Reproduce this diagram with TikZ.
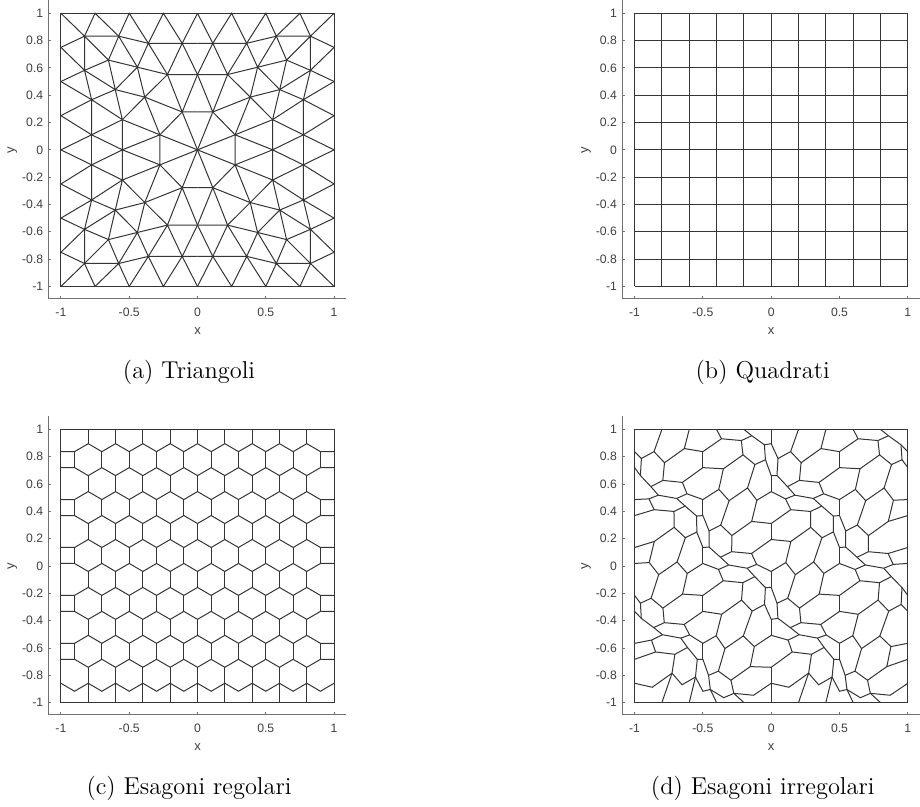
\documentclass[tikz,border=0pt]{standalone}
\usepackage{fontspec}
\usepackage{xcolor}
\setsansfont{Liberation Sans}
\definecolor{MeshLine}{HTML}{353535}
\definecolor{AxisGray}{HTML}{707070}
\definecolor{TickText}{HTML}{404040}
\newcommand{\hexamp}{0}
\newcommand{\triquad}{%
\coordinate (A) at (-0.827,0.832);\coordinate (B) at (-0.577,0.832);\coordinate (C) at (-0.36,0.78);\coordinate (D) at (-0.112,0.78);\coordinate (E) at (-0.652,0.657);\coordinate (F) at (-0.827,0.582);
\coordinate (G) at (-0.44,0.605);\coordinate (H) at (-0.22,0.551);\coordinate (I) at (0,0.551);\coordinate (J) at (-0.602,0.441);\coordinate (K) at (-0.775,0.367);\coordinate (L) at (-0.386,0.386);
\coordinate (M) at (-0.112,0.277);\coordinate (N) at (-0.55,0.221);\coordinate (O) at (-0.775,0.11);\coordinate (P) at (-0.275,0.11);\coordinate (Q) at (0,0);\coordinate (N0) at (-0.55,0);
\draw[meshline] (-1,1) -- (A) -- (-0.75,1) -- (B) -- (-0.5,1) -- (C) -- (-0.25,1) -- (D) -- (0,1);
\draw[meshline] (-1,0.75) -- (A) -- (B) -- (C) -- (D) -- (0,0.78);
\draw[meshline] (-1,0.75) -- (F) -- (A) -- (E) -- (B) -- (G) -- (C) -- (H) -- (D) -- (I);
\draw[meshline] (-1,0.5) -- (F) -- (E) -- (G) -- (H) -- (I);
\draw[meshline] (-1,0.5) -- (K) -- (F) -- (J) -- (E);\draw[meshline] (J) -- (G) -- (L) -- (H) -- (M) -- (I);
\draw[meshline] (-1,0.25) -- (K) -- (J) -- (L) -- (M) -- (0,0.277);\draw[meshline] (-1,0.25) -- (O) -- (K) -- (N) -- (J);
\draw[meshline] (N) -- (L) -- (P) -- (M) -- (Q);\draw[meshline] (-1,0) -- (O) -- (N) -- (P) -- (Q);
\draw[meshline] (O) -- (-0.775,0);\draw[meshline] (N) -- (N0) -- (O);\draw[meshline] (N0) -- (P) -- (-0.275,0);}
\newcommand{\hexmesh}{%
\foreach \k in {1,...,11}{\pgfmathsetmacro\yc{rowy(\k)}\pgfmathsetmacro\ylo{\yc-0.0585}\pgfmathsetmacro\yhi{min(1,\yc+0.0585)}\pgfmathsetmacro\xo{isodd(\k) ? (-0.8) : (-0.9)}\pgfmathtruncatemacro\nv{isodd(\k) ? 8 : 9}%
\foreach \j in {0,...,\nv}{\draw[meshline] ({hx(\xo+0.2*\j,\ylo)},{hy(\xo+0.2*\j,\ylo)}) -- ({hx(\xo+0.2*\j,\yhi)},{hy(\xo+0.2*\j,\yhi)});}}
\foreach \k in {1,...,10}{\pgfmathsetmacro\yo{isodd(\k) ? (rowy(\k+1)+0.0585) : (rowy(\k)-0.0585)}\pgfmathsetmacro\ye{isodd(\k) ? (rowy(\k)-0.0585) : (rowy(\k+1)+0.0585)}%
\draw[meshline] ({hx(-1,\yo)},{hy(-1,\yo)}) \foreach \i [evaluate=\i as \xx using -1+0.1*\i,evaluate=\i as \yy using (isodd(\i) ? \yo : \ye)] in {1,...,19}{ -- ({hx(\xx,\yy)},{hy(\xx,\yy)})} -- ({hx(1,\yo)},{hy(1,\yo)});}
\pgfmathsetmacro\ye{rowy(11)-0.0585}\pgfmathsetmacro\yo{rowy(11)-0.117}%
\draw[meshline] ({hx(-1,\ye)},{hy(-1,\ye)}) \foreach \i [evaluate=\i as \xx using -1+0.1*\i,evaluate=\i as \yy using (isodd(\i) ? \yo : \ye)] in {1,...,19}{ -- ({hx(\xx,\yy)},{hy(\xx,\yy)})} -- ({hx(1,\ye)},{hy(1,\ye)});
\foreach \j in {0,...,8}{\draw[meshline] ({hx(-0.8+0.2*\j,-1)},{hy(-0.8+0.2*\j,-1)}) -- ({hx(-0.8+0.2*\j,\ye)},{hy(-0.8+0.2*\j,\ye)});}}
\newcommand{\meshaxes}[2]{%
\draw[axisline] (-1.09,1.1) -- (-1.09,-1.09) -- (1.09,-1.09);
\foreach \t [count=\n] in {-1,-0.8,-0.6,-0.4,-0.2,0,0.2,0.4,0.6,0.8,1}{\draw[axisline] (-1.09,\t) -- ++(1.4pt,0);\node[ticklab,anchor=east] (#1yt\n) at ([xshift=-2.5pt]-1.09,\t){\t};}
\foreach \t [count=\n] in {-1,-0.5,0,0.5,1}{\draw[axisline] (\t,-1.09) -- ++(0,1.4pt);\node[ticklab] (#1xt\n) at (\t,-1.19){\t};}
\node[axlab] (#1xl) at (0,-1.325){x};\node[axlab,rotate=90] (#1yl) at (-1.356,0){y};
\node[capt,anchor=base] (#1cap) at (-0.062,-1.675){#2};}
\begin{document}
\begin{tikzpicture}[x=0.5pt,y=0.5pt,meshline/.style={draw=MeshLine,line width=0.5pt},axisline/.style={draw=AxisGray,line width=0.45pt},ticklab/.style={text=TickText,font=\sffamily\fontsize{6.1}{7}\selectfont,inner sep=0pt},axlab/.style={text=TickText,font=\sffamily\fontsize{6.5}{7.5}\selectfont,inner sep=0pt},capt/.style={font=\fontsize{12.2}{14.6}\selectfont,inner sep=0pt},declare function={hx(\x,\y)=\x+\hexamp*sin(360*\x)*sin(360*\y);hy(\x,\y)=\y+\hexamp*sin(360*\x)*sin(360*\y);rowy(\k)=0.954-(\k-1)*0.1754;}]
\path[fill=white,use as bounding box] (0,0) rectangle (920,807);
\begin{scope}[shift={(98.75pt,328.575pt)},x=68.3pt,y=68.3pt]
\foreach \sx/\sy in {1/1,-1/1,1/-1,-1/-1}{\begin{scope}[xscale=\sx,yscale=\sy]\triquad\end{scope}}
\draw[meshline] (-1,-1) rectangle (1,1);
\meshaxes{a}{(a) Triangoli}
\end{scope}
\begin{scope}[shift={(385.6pt,328.575pt)},x=68.3pt,y=68.3pt]
\foreach \i in {0,...,10}{\draw[meshline] ({-1+0.2*\i},-1) -- ({-1+0.2*\i},1);\draw[meshline] (-1,{-1+0.2*\i}) -- (1,{-1+0.2*\i});}
\meshaxes{b}{(b) Quadrati}
\end{scope}
\begin{scope}[shift={(98.75pt,120.5pt)},x=68.3pt,y=68.3pt]
\def\hexamp{0}\hexmesh
\draw[meshline] (-1,-1) rectangle (1,1);
\meshaxes{c}{(c) Esagoni regolari}
\end{scope}
\begin{scope}[shift={(385.6pt,120.5pt)},x=68.3pt,y=68.3pt]
\def\hexamp{0.1}\hexmesh
\draw[meshline] (-1,-1) rectangle (1,1);
\meshaxes{d}{(d) Esagoni irregolari}
\end{scope}
\end{tikzpicture}
\end{document}
